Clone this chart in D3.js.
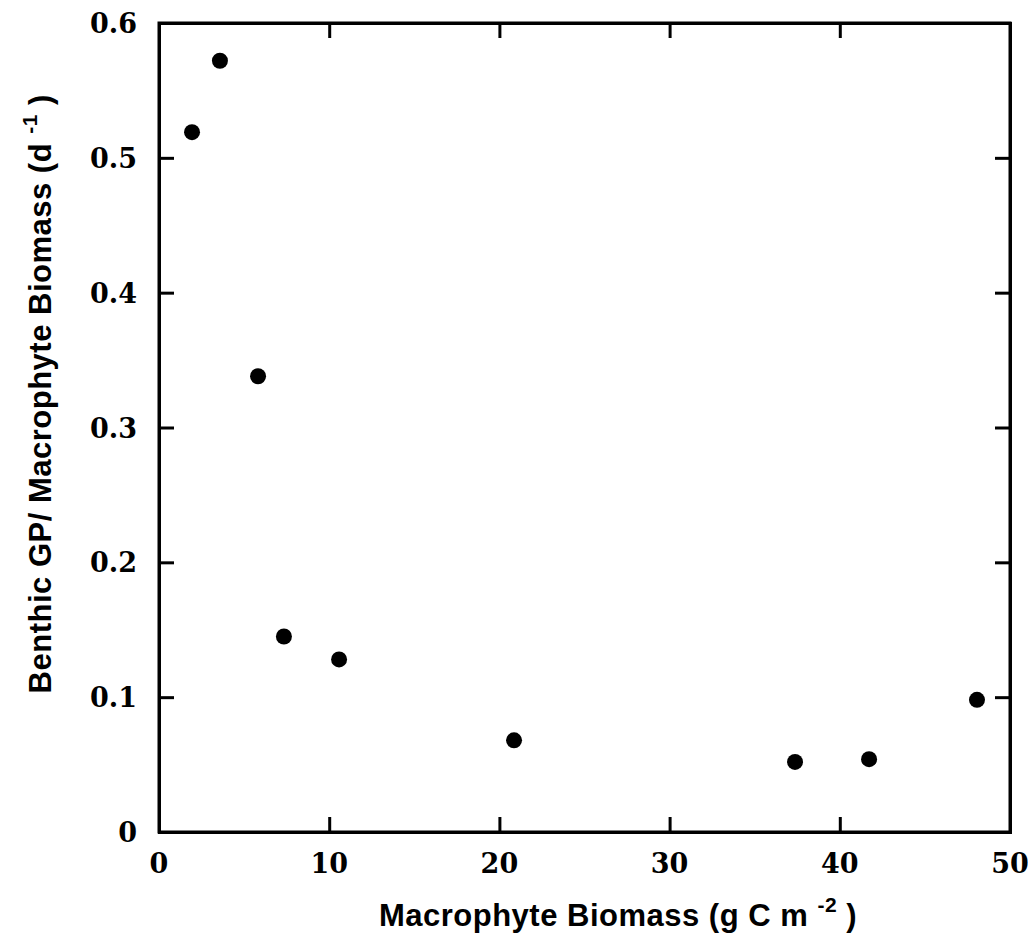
<!DOCTYPE html>
<html>
<head>
<meta charset="utf-8">
<script src="https://cdn.jsdelivr.net/npm/d3@7"></script>
<style>
  body { margin: 0; background: #fff; }
  .tick-label { font-family: "DejaVu Serif", "Liberation Serif", serif; font-weight: bold; font-size: 27px; }
  .axis-title { font-family: "Liberation Sans", Arial, sans-serif; font-weight: bold; font-size: 31px; letter-spacing: 0.5px; }
</style>
</head>
<body>
<div id="chart"></div>
<script>
// ======= DATA =======
const biomass = [1.94, 3.58, 5.82, 7.34, 10.58, 20.86, 37.37, 41.72, 48.06];
const gpRatio = [0.519, 0.572, 0.338, 0.145, 0.128, 0.068, 0.052, 0.054, 0.098];
const xTicks = [0, 10, 20, 30, 40, 50];
const yTicks = [0, 0.1, 0.2, 0.3, 0.4, 0.5, 0.6];

// ======= SVG SETUP =======
const width = 1028, height = 935;
const margin = { left: 159, right: 18, top: 23, bottom: 103 };

const svg = d3.select("#chart").append("svg")
  .attr("width", width)
  .attr("height", height);

const x = d3.scaleLinear().domain([0, 50]).range([margin.left, width - margin.right]);
const y = d3.scaleLinear().domain([0, 0.6]).range([height - margin.bottom, margin.top]);

const tickLen = 15;

// inward ticks on all four sides, no labels from the axis itself
const fmtNone = () => "";
svg.append("g").attr("transform", `translate(0,${y(0)})`)
  .call(d3.axisTop(x).tickValues(xTicks).tickSize(tickLen).tickFormat(fmtNone));
svg.append("g").attr("transform", `translate(0,${y(0.6)})`)
  .call(d3.axisBottom(x).tickValues(xTicks).tickSize(tickLen).tickFormat(fmtNone));
svg.append("g").attr("transform", `translate(${x(0)},0)`)
  .call(d3.axisRight(y).tickValues(yTicks).tickSize(tickLen).tickFormat(fmtNone));
svg.append("g").attr("transform", `translate(${x(50)},0)`)
  .call(d3.axisLeft(y).tickValues(yTicks).tickSize(tickLen).tickFormat(fmtNone));

svg.selectAll(".domain, .tick line")
  .attr("stroke", "#000")
  .attr("stroke-width", 3);

// frame
svg.append("rect")
  .attr("x", x(0)).attr("y", y(0.6))
  .attr("width", x(50) - x(0)).attr("height", y(0) - y(0.6))
  .attr("fill", "none").attr("stroke", "#000").attr("stroke-width", 3);

// tick labels
svg.selectAll(".xlab").data(xTicks).enter().append("text")
  .attr("class", "tick-label")
  .attr("x", d => x(d))
  .attr("y", y(0) + 41)
  .attr("text-anchor", "middle")
  .text(d => d);

svg.selectAll(".ylab").data(yTicks).enter().append("text")
  .attr("class", "tick-label")
  .attr("x", x(0) - 22)
  .attr("y", d => y(d) + 10)
  .attr("text-anchor", "end")
  .text(d => d === 0 ? "0" : d.toFixed(1));

// points
svg.selectAll(".pt").data(biomass).enter().append("circle")
  .attr("cx", d => x(d))
  .attr("cy", (d, i) => y(gpRatio[i]))
  .attr("r", 8)
  .attr("fill", "#000");

// axis titles
const xt = svg.append("text").attr("class", "axis-title")
  .attr("x", 618).attr("y", 926).attr("text-anchor", "middle");
xt.append("tspan").text("Macrophyte Biomass (g C m ");
xt.append("tspan").attr("dy", -14).style("font-size", "21px").text("-2");
xt.append("tspan").attr("dy", 14).text(" )");

const yt = svg.append("text").attr("class", "axis-title")
  .attr("transform", `translate(51,${y(0.325)}) rotate(-90)`)
  .attr("text-anchor", "middle");
yt.append("tspan").text("Benthic GP/ Macrophyte Biomass (d ");
yt.append("tspan").attr("dy", -14).style("font-size", "21px").text("-1");
yt.append("tspan").attr("dy", 14).text(" )");
</script>
</body>
</html>
